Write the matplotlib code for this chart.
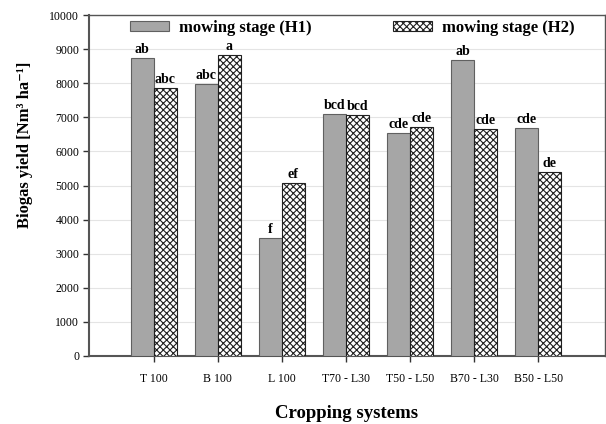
import numpy as np
import matplotlib
matplotlib.use('Agg')
import matplotlib.pyplot as plt
from matplotlib import rcParams

rcParams['font.family'] = ['Liberation Serif', 'DejaVu Serif']
rcParams['hatch.linewidth'] = 0.8

systems = ['T 100', 'B 100', 'L 100', 'T70 - L30', 'T50 - L50', 'B70 - L30', 'B50 - L50']
h1 = [8740, 7980, 3470, 7100, 6540, 8680, 6680]
h2 = [7860, 8830, 5080, 7060, 6720, 6650, 5390]
h1_letters = ['ab', 'abc', 'f', 'bcd', 'cde', 'ab', 'cde']
h2_letters = ['abc', 'a', 'ef', 'bcd', 'cde', 'cde', 'de']

fig = plt.figure(figsize=(6.06, 4.24), dpi=100)
ax = fig.add_axes([89/606, 1-356/424, 516/606, 341/424])

x = np.arange(len(systems))
w = 0.36
ax.bar(x - w/2, h1, w, color='#a6a6a6', edgecolor='#606060', linewidth=0.8,
       label='mowing stage (H1)', zorder=3)
ax.bar(x + w/2, h2, w, color='white', edgecolor='#202020', hatch='xxxxx', linewidth=0.8,
       label='mowing stage (H2)', zorder=3)

# significance letters above bars
for xi, v, t in zip(x - w/2, h1, h1_letters):
    ax.text(xi, v + 60, t, ha='center', va='bottom', fontsize=10, fontweight='bold')
for xi, v, t in zip(x + w/2, h2, h2_letters):
    ax.text(xi, v + 60, t, ha='center', va='bottom', fontsize=10, fontweight='bold')

ax.set_xlim(-1.01, 7.04)
ax.set_ylim(0, 10000)
ax.set_yticks(np.arange(0, 10001, 1000))
ax.set_xticks(x)
ax.set_xticklabels(systems)
ax.tick_params(axis='both', labelsize=8.5, length=4, width=1, direction='out', color='#333333')
ax.tick_params(axis='x', pad=8)
ax.tick_params(axis='y', pad=3)
ax.yaxis.grid(True, color='#e4e4e4', linewidth=0.8, zorder=0)
ax.set_axisbelow(True)
for s in ax.spines.values():
    s.set_color('#555555')
    s.set_linewidth(1.0)
ax.spines['left'].set_linewidth(1.5)
ax.spines['bottom'].set_linewidth(1.5)

ax.set_ylabel('Biogas yield [Nm³ ha⁻¹]', fontsize=12, fontweight='bold')
ax.yaxis.set_label_coords(-0.108, 0.62)
ax.set_xlabel('Cropping systems', fontsize=13.5, fontweight='bold', labelpad=15)

ax.legend(loc='upper center', bbox_to_anchor=(0.51, 1.03), ncol=2, frameon=False,
          prop={'weight': 'bold', 'size': 12}, handlelength=2.35, handleheight=0.6,
          columnspacing=4.9, handletextpad=0.6)

fig.savefig('out.png', dpi=100)
